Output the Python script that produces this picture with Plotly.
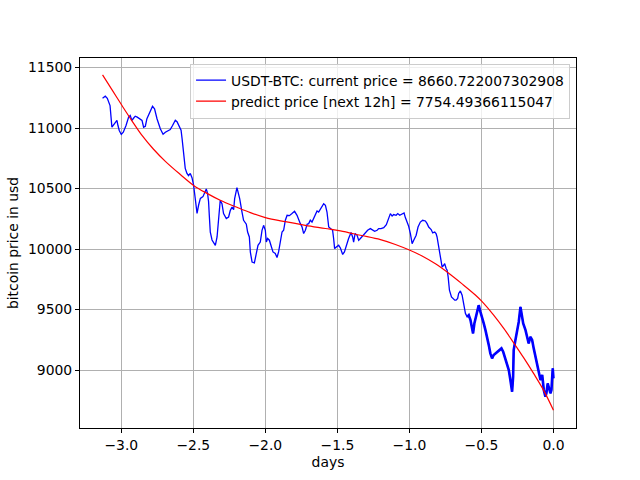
import plotly.graph_objects as go

# Observed price (blue): days, value
days = [-3.130,-3.111,-3.097,-3.078,-3.065,-3.053,-3.042,-3.030,-3.023,-3.014,-3.000,-2.986,-2.967,-2.949,-2.938,-2.926,-2.915,-2.903,-2.889,-2.873,
        -2.856,-2.845,-2.833,-2.822,-2.799,-2.783,-2.769,-2.752,-2.729,-2.710,-2.694,-2.676,-2.660,-2.644,-2.625,-2.613,-2.595,-2.585,-2.578,-2.567,
        -2.556,-2.544,-2.533,-2.521,-2.509,-2.498,-2.486,-2.474,-2.463,-2.451,-2.433,-2.424,-2.410,-2.401,-2.394,-2.389,-2.382,-2.370,-2.354,-2.347,
        -2.335,-2.324,-2.313,-2.301,-2.290,-2.271,-2.255,-2.243,-2.231,-2.220,-2.213,-2.197,-2.178,-2.162,-2.151,-2.132,-2.123,-2.111,-2.104,-2.092,
        -2.076,-2.065,-2.051,-2.035,-2.023,-2.012,-2.000,-1.993,-1.984,-1.972,-1.960,-1.947,-1.931,-1.919,-1.908,-1.896,-1.884,-1.873,-1.861,-1.849,
        -1.833,-1.815,-1.797,-1.780,-1.769,-1.757,-1.745,-1.734,-1.722,-1.710,-1.699,-1.688,-1.676,-1.665,-1.653,-1.641,-1.630,-1.618,-1.606,-1.595,
        -1.583,-1.572,-1.560,-1.544,-1.533,-1.526,-1.519,-1.507,-1.491,-1.479,-1.463,-1.451,-1.438,-1.422,-1.405,-1.394,-1.387,-1.377,-1.363,-1.352,
        -1.340,-1.322,-1.306,-1.290,-1.271,-1.255,-1.241,-1.224,-1.213,-1.197,-1.178,-1.160,-1.144,-1.132,-1.120,-1.109,-1.092,-1.081,-1.067,-1.051,
        -1.037,-1.028,-1.016,-1.005,-0.993,-0.981,-0.970,-0.953,-0.940,-0.924,-0.908,-0.889,-0.877,-0.866,-0.849,-0.838,-0.824,-0.815,-0.808,-0.797,
        -0.785,-0.773,-0.762,-0.755,-0.745,-0.738,-0.731,-0.722,-0.708,-0.699,-0.685,-0.676,-0.665,-0.658,-0.646,-0.634,-0.623,-0.611,-0.599,-0.588,
        -0.576,-0.565,-0.558,-0.549,-0.542,-0.530,-0.519,-0.507,-0.495,-0.484,-0.472,-0.460,-0.449,-0.438,-0.426,-0.415,-0.403,-0.391,-0.373,-0.361,
        -0.349,-0.338,-0.326,-0.310,-0.299,-0.287,-0.280,-0.276,-0.264,-0.252,-0.241,-0.229,-0.222,-0.210,-0.194,-0.183,-0.172,-0.160,-0.148,-0.137,
        -0.125,-0.113,-0.102,-0.090,-0.078,-0.067,-0.056,-0.049,-0.040,-0.028,-0.021,-0.014,-0.005,0.000]
price = [11246,11263,11246,11186,11007,11027,11048,11063,11021,10980,10947,10966,11021,11090,11104,11063,11081,11098,11090,11077,
         11063,11007,11015,11077,11145,11180,11159,11077,10994,10949,10966,10980,10988,11021,11065,11052,10997,10982,10914,10776,
         10667,10625,10606,10625,10590,10529,10419,10295,10364,10419,10433,10460,10496,10460,10392,10279,10139,10075,10040,10031,
         10100,10293,10403,10375,10293,10252,10265,10320,10347,10326,10417,10507,10417,10306,10238,10205,10141,10100,9974,9893,
         9885,9949,10031,10058,10155,10196,10155,10058,10087,10073,10017,9976,9963,9930,9976,10073,10141,10155,10238,10279,
         10276,10293,10312,10279,10238,10210,10182,10128,10155,10205,10210,10238,10223,10252,10271,10314,10306,10334,10361,10375,
         10361,10306,10182,10169,10155,10087,10004,10017,10031,10009,9955,9976,10031,10087,10136,10100,10058,10128,10114,10073,
         10087,10114,10136,10155,10169,10155,10147,10155,10169,10169,10177,10202,10246,10293,10273,10285,10279,10293,10279,10293,
         10298,10260,10223,10188,10128,10045,10073,10114,10182,10223,10238,10232,10210,10182,10161,10133,10141,10128,10100,10017,
         9935,9852,9866,9880,9839,9825,9770,9660,9605,9592,9578,9578,9592,9633,9654,9619,9550,9468,9440,9454,
         9413,9330,9303,9385,9427,9468,9536,9481,9440,9385,9330,9248,9206,9138,9097,9124,9138,9151,9165,9179,
         9151,9110,9068,9000,8917,8821,8945,9165,9248,9330,9398,9522,9468,9385,9330,9275,9220,9275,9248,9179,
         9110,9055,8973,8917,8959,8835,8780,8808,8890,8835,8808,8835,9014,8932]

# Predicted trend (red)
pred_days = [-3.130,-3.065,-2.995,-2.926,-2.856,-2.776,-2.694,-2.590,-2.498,-2.405,-2.313,-2.197,-2.104,-2.000,-1.861,-1.722,
             -1.583,-1.479,-1.340,-1.201,-1.097,-1.000,-0.912,-0.819,-0.727,-0.634,-0.542,-0.495,-0.415,-0.345,-0.276,-0.206,
             -0.137,-0.067,0.000]
pred_price = [11440,11318,11186,11060,10939,10825,10725,10616,10526,10460,10403,10345,10301,10260,10226,10196,
              10170,10150,10114,10078,10038,9992,9943,9878,9800,9712,9620,9565,9454,9344,9225,9100,
              8970,8830,8668]

x_ticks = [-3.0, -2.5, -2.0, -1.5, -1.0, -0.5, 0.0]
x_tick_text = ["−3.0", "−2.5", "−2.0", "−1.5", "−1.0", "−0.5", "0.0"]
y_ticks = [9000, 9500, 10000, 10500, 11000, 11500]
y_tick_text = ["9000", "9500", "10000", "10500", "11000", "11500"]

label_now = "USDT-BTC: current price = 8660.722007302908"
label_pred = "predict price [next 12h] = 7754.49366115047"

# the last stretch of the observed series is very dense (drawn thicker)
dense_start = -0.61
tail_days = [d for d in days if d >= dense_start]
tail_price = [p for d, p in zip(days, price) if d >= dense_start]

FS = 13.9

fig = go.Figure()
fig.add_trace(go.Scatter(x=days, y=price, mode="lines", name=label_now, legendgroup="a",
                         line=dict(color="#0000ff", width=1.3)))
fig.add_trace(go.Scatter(x=tail_days, y=tail_price, mode="lines", showlegend=False, legendgroup="a",
                         hoverinfo="skip", line=dict(color="#0000ff", width=2.6)))
fig.add_trace(go.Scatter(x=pred_days, y=pred_price, mode="lines", name=label_pred, legendgroup="b",
                         line=dict(color="#ff0000", width=1.2, shape="spline")))

axis_common = dict(showline=True, linecolor="black", linewidth=1, mirror=True,
                   ticks="outside", ticklen=4, tickcolor="black", tickwidth=1,
                   showgrid=True, gridcolor="#b0b0b0", gridwidth=0.8, zeroline=False,
                   automargin=False,
                   tickfont=dict(family="DejaVu Sans", size=FS, color="black"),
                   title_font=dict(family="DejaVu Sans", size=FS, color="black"))

fig.update_layout(
    width=640, height=480,
    margin=dict(l=80, r=64, t=58, b=52),
    paper_bgcolor="white", plot_bgcolor="white",
    font=dict(family="DejaVu Sans", size=FS, color="black"),
    xaxis=dict(range=[-3.2865, 0.1565], tickvals=x_ticks, ticktext=x_tick_text,
               title=dict(text="days", standoff=5), **axis_common),
    yaxis=dict(range=[8521, 11579], tickvals=y_ticks, ticktext=y_tick_text,
               title=dict(text="bitcoin price in usd", standoff=6), **axis_common),
    legend=dict(x=0.988, xanchor="right", y=0.985, yanchor="top",
                bgcolor="rgba(255,255,255,0.8)", bordercolor="#cccccc", borderwidth=1,
                font=dict(family="DejaVu Sans", size=FS, color="black"),
                tracegroupgap=0, itemwidth=30),
    showlegend=True,
)

fig.write_html("out.html", post_script="document.body.style.margin='0';",
               config={"displayModeBar": False})
